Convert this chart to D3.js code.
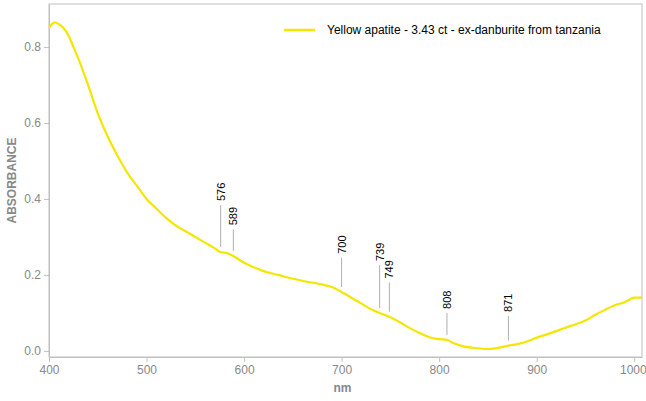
<!DOCTYPE html>
<html><head><meta charset="utf-8">
<script src="https://cdn.jsdelivr.net/npm/d3@7"></script>
<style>body{margin:0;background:#fff;font-family:"Liberation Sans",Arial,sans-serif}</style>
</head><body><div id="chart"></div>
<script>
// spectrum
var wavelengths = [400,403,406,410,415,420,425,430,440,450,460,470,480,490,500,510,520,530,540,550,560,570,576,582,589,595,600,610,620,635,650,665,680,690,700,710,720,730,739,749,760,770,780,790,800,808,815,825,840,850,860,871,880,890,900,910,920,935,950,960,970,980,990,1000,1008];
var absorbance  = [0.85,0.86,0.865,0.86,0.85,0.83,0.80,0.77,0.70,0.625,0.565,0.515,0.47,0.435,0.40,0.375,0.35,0.33,0.315,0.30,0.285,0.27,0.26,0.258,0.25,0.24,0.232,0.22,0.21,0.20,0.19,0.182,0.175,0.168,0.155,0.14,0.125,0.11,0.10,0.09,0.075,0.06,0.047,0.036,0.031,0.029,0.02,0.012,0.007,0.005,0.008,0.014,0.018,0.025,0.035,0.043,0.052,0.066,0.08,0.095,0.108,0.12,0.128,0.14,0.14];
var peaks      = [576,589,700,739,749,808,871];
var peakTop    = [0.384,0.32,0.245,0.226,0.18,0.10,0.092];
var xTicks = [400,500,600,700,800,900,1000];
var yTicks = [0,0.2,0.4,0.6,0.8];
var seriesName = "Yellow apatite - 3.43 ct - ex-danburite from tanzania";

var W = 646, H = 401, m = {top:4, right:4, bottom:44, left:49};
var x = d3.scaleLinear().domain([400,1008]).range([m.left, W-m.right]);
var y = d3.scaleLinear().domain([-0.016,0.913]).range([H-m.bottom, m.top]);
var svg = d3.select("#chart").append("svg").attr("width",W).attr("height",H);

svg.append("rect").attr("x",m.left).attr("y",m.top)
  .attr("width",W-m.left-m.right).attr("height",H-m.top-m.bottom)
  .attr("fill","none").attr("stroke","#c0c0c0");

var xa = svg.append("g").attr("transform","translate(0,"+(H-m.bottom)+")")
  .call(d3.axisBottom(x).tickValues(xTicks).tickFormat(d3.format("d")).tickSize(5).tickSizeOuter(0));
var ya = svg.append("g").attr("transform","translate("+m.left+",0)")
  .call(d3.axisLeft(y).tickValues(yTicks).tickFormat(d3.format(".1f")).tickSize(5).tickSizeOuter(0));
[xa,ya].forEach(function(a){
  a.select(".domain").attr("stroke","#c0c0c0");
  a.selectAll("line").attr("stroke","#c0c0c0");
  a.selectAll("text").attr("fill","#888").style("font-size","12px").style("font-family","Liberation Sans, Arial");
});
xa.selectAll("text").filter(function(d){return d===1000;}).attr("text-anchor","end").attr("dx","12");

svg.append("text").attr("x",(m.left+W-m.right)/2-3).attr("y",392).attr("text-anchor","middle")
  .attr("fill","#888").style("font-weight","bold").style("font-size","12px").text("nm");
svg.append("text").attr("transform","translate(16,"+((m.top+H-m.bottom)/2)+") rotate(-90)")
  .attr("text-anchor","middle").attr("fill","#888").style("font-weight","bold").style("font-size","12px").text("ABSORBANCE");

var pts = wavelengths.map(function(w,i){return [w,absorbance[i]];});
svg.append("path").datum(pts).attr("fill","none").attr("stroke","#f5e600").attr("stroke-width",2.2)
  .attr("d", d3.line().x(function(d){return x(d[0]);}).y(function(d){return y(d[1]);}).curve(d3.curveMonotoneX));

var interp = function(w){ var i = d3.bisectLeft(wavelengths,w); if(i<=0) return absorbance[0];
  var t=(w-wavelengths[i-1])/(wavelengths[i]-wavelengths[i-1]); return absorbance[i-1]+t*(absorbance[i]-absorbance[i-1]); };

var pk = svg.selectAll(".peak").data(peaks).enter().append("g").attr("class","peak");
pk.append("line").attr("x1",function(d){return x(d);}).attr("x2",function(d){return x(d);})
  .attr("y1",function(d){return y(interp(d))-5;})
  .attr("y2",function(d,i){return y(peakTop[i]);})
  .attr("stroke","#b0b0b0");
pk.append("text").attr("transform",function(d,i){return "translate("+(x(d)+4)+","+(y(peakTop[i])-4)+") rotate(-90)";})
  .style("font-size","11px").attr("fill","#000").text(function(d){return d;});

var lg = svg.append("g");
lg.append("line").attr("x1",284).attr("x2",315).attr("y1",30).attr("y2",30).attr("stroke","#f5e600").attr("stroke-width",2.5);
lg.append("text").attr("x",327).attr("y",34).style("font-size","12px").attr("fill","#000").text(seriesName);
</script></body></html>
